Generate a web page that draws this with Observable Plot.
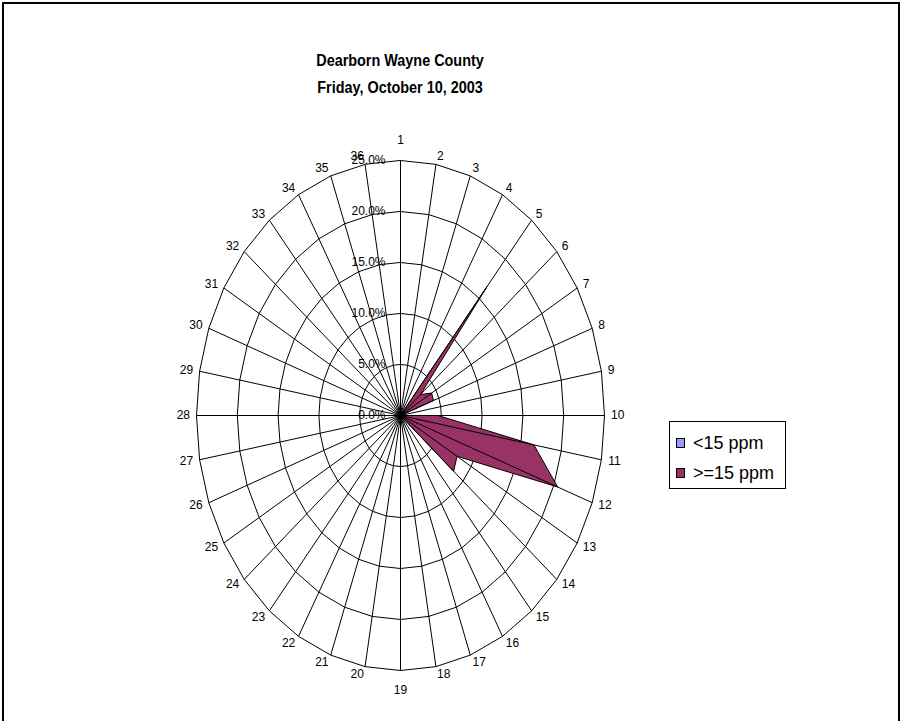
<!DOCTYPE html>
<html><head><meta charset="utf-8">
<script src="https://cdn.jsdelivr.net/npm/d3@7"></script>
<script src="https://cdn.jsdelivr.net/npm/@observablehq/plot@0.6"></script>
<style>
body{margin:0;background:#fff;font-family:"Liberation Sans",Arial,sans-serif;}
#wrap{position:relative;width:906px;height:721px;overflow:hidden;background:#fff;}
#frame{position:absolute;left:2px;top:2px;width:898px;height:730px;border:2px solid #000;box-sizing:border-box;}
#title{position:absolute;left:0;width:800px;top:47px;text-align:center;font-weight:bold;font-size:16px;line-height:27px;color:#000;transform:scaleX(0.9);transform-origin:400px 0;}
#legend{position:absolute;left:669px;top:421px;width:117px;height:68px;border:1px solid #000;box-sizing:border-box;background:#fff;}
.row{position:absolute;left:6px;height:22px;display:flex;align-items:center;font-size:18px;color:#000;white-space:nowrap;}
.sw{width:7px;height:8px;border:1px solid #000;margin-right:8px;}
#chart svg{position:absolute;left:0;top:0;}
</style></head>
<body><div id="wrap"><div id="frame"></div><div id="chart"></div>
<div id="title">Dearborn Wayne County<br>Friday, October 10, 2003</div>
<div id="legend"></div></div>
<script>
const directions = ["1","2","3","4","5","6","7","8","9","10","11","12","13","14","15","16","17","18","19","20","21","22","23","24","25","26","27","28","29","30","31","32","33","34","35","36"];
const seriesNames = ["<15 ppm", ">=15 ppm"];
const seriesColors = ["#9999FF", "#993366"];
const lowValues  = [0,0,0,0,0,0,0,0,0,0,0,0,0,0,0,0,0,0,0,0,0,0,0,0,0,0,0,0,0,0,0,0,0,0,0,0];
const highValues = [0,0,0,0,16.5,3.2,4.4,4.3,0,4.6,16.6,20.5,8.0,8.5,0,0,0,0,0,0,0,0,0,0,0,0,0,0,0,0,0,0,0,0,0,0];
const ringTicks = [0,5,10,15,20,25];
const ringLabels = ["0.0%","5.0%","10.0%","15.0%","20.0%","25.0%"];

const maxR = 25;
const xRange = [196, 604], yRange = [670, 160];
const pxPerX = (xRange[1]-xRange[0])/(2*maxR), pxPerY = (yRange[0]-yRange[1])/(2*maxR);
const ang = i => i*2*Math.PI/directions.length;

const rings = [];
ringTicks.forEach(r => directions.forEach((d,i) => rings.push({ring:r, x:r*Math.sin(ang(i)), y:r*Math.cos(ang(i))})));
const spokes = directions.map((d,i) => ({x:maxR*Math.sin(ang(i)), y:maxR*Math.cos(ang(i))}));
const series = [lowValues, highValues];
const polys = [];
series.forEach((vals,k) => vals.forEach((v,i) => polys.push({s:seriesNames[k], x:v*Math.sin(ang(i)), y:v*Math.cos(ang(i))})));

const labelData = directions.map((d,i) => {
  const s = Math.sin(ang(i)), c = Math.cos(ang(i));
  const w = d.length*6.7;
  let ox, oy;
  if (Math.abs(s) < 1e-6) { ox = 0; oy = 20*Math.sign(c); }
  else { ox = Math.sign(s)*(w/2) + s*6.5; oy = c*8; }
  return {label:d, x: maxR*s + ox/pxPerX, y: maxR*c + oy/pxPerY};
});
const ringLabelData = ringTicks.map((r,i)=>({x:0, y:r, label:ringLabels[i]}));

const chart = Plot.plot({
  width: 906, height: 721,
  x: {domain:[-maxR,maxR], range:xRange, axis:null},
  y: {domain:[-maxR,maxR], range:yRange, axis:null},
  style: {fontFamily:'"Liberation Sans", Arial, sans-serif', fontSize:"12px", background:"transparent", overflow:"visible"},
  marks: [
    Plot.line(rings, {x:"x", y:"y", z:"ring", curve:"linear-closed", stroke:"#000", strokeWidth:1}),
    Plot.line(polys, {x:"x", y:"y", z:"s", curve:"linear-closed", fill:d=>d.s, stroke:"#000", strokeWidth:1}),
    Plot.link(spokes, {x1:0, y1:0, x2:"x", y2:"y", stroke:"#000", strokeWidth:1}),
    Plot.text(ringLabelData, {x:"x", y:"y", text:"label", dx:-15, textAnchor:"end", fill:"#000"}),
    Plot.text(labelData, {x:"x", y:"y", text:"label", fill:"#000"})
  ],
  color: {domain: seriesNames, range: seriesColors}
});
document.getElementById("chart").appendChild(chart);

const legend = document.getElementById("legend");
seriesNames.forEach((n,i) => {
  const row = document.createElement("div");
  row.className = "row";
  row.style.top = (10 + i*30) + "px";
  const sw = document.createElement("div");
  sw.className = "sw"; sw.style.background = seriesColors[i];
  const t = document.createElement("span"); t.textContent = n;
  row.appendChild(sw); row.appendChild(t);
  legend.appendChild(row);
});
</script></body></html>
